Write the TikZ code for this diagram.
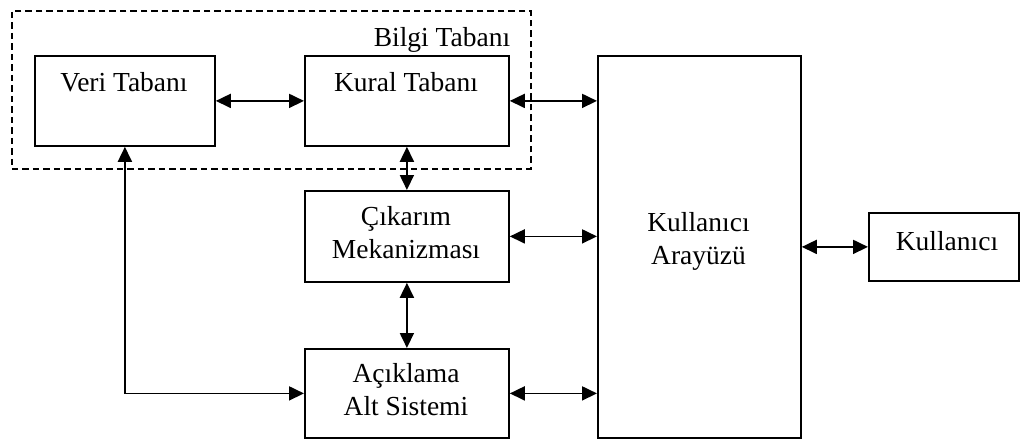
\documentclass[tikz,border=0pt]{standalone}
\usepackage{fontspec}
\setmainfont{Liberation Serif}
\usetikzlibrary{arrows.meta}
\begin{document}
\begin{tikzpicture}[x=1pt,y=-1pt,
  box/.style={draw, line width=1.8pt, inner sep=0pt, anchor=north west},
  group/.style={draw, line width=1.6pt, dash pattern=on 6.5pt off 4pt, inner sep=0pt, anchor=north west},
  lbl/.style={font=\fontsize{27.5}{33}\selectfont, align=center, inner sep=0pt},
  conn/.style={line width=1.8pt, {Triangle[length=15pt,width=14pt]}-{Triangle[length=15pt,width=14pt]}},
]
\useasboundingbox (0,0) rectangle (1020,439);
% group
\node[group, minimum width=519pt, minimum height=158pt] (bilgi) at (11,10) {};
% boxes
\node[box, minimum width=180pt, minimum height=90pt] (veri) at (34,55) {};
\node[box, minimum width=204pt, minimum height=90pt] (kural) at (304,55) {};
\node[box, minimum width=204pt, minimum height=91pt] (cik) at (304,190) {};
\node[box, minimum width=204pt, minimum height=89pt] (acik) at (304,348) {};
\node[box, minimum width=203pt, minimum height=382pt] (ui) at (597,55) {};
\node[box, minimum width=150pt, minimum height=68pt] (kul) at (868,212) {};
% labels
\node[lbl, anchor=base] (bilgitxt) at (442,46) {Bilgi Tabanı};
\node[lbl, anchor=base] (veritxt) at (124,91) {Veri Tabanı};
\node[lbl, anchor=base] (kuraltxt) at (406,91) {Kural Tabanı};
\node[lbl] (ciktxt) at (406,232.5) {Çıkarım\\Mekanizması};
\node[lbl] (aciktxt) at (406,389.8) {Açıklama\\Alt Sistemi};
\node[lbl] (uitxt) at (698.5,241.3) {Kullanıcı\\Arayüzü};
\node[lbl, anchor=base] (kultxt) at (947,250) {Kullanıcı};
% connectors
\draw[conn] (veri.east) -- (kural.west);
\draw[conn] (kural.east) -- (kural.east -| ui.west);
\draw[conn] (kural.south) -- (cik.north);
\draw[conn] (cik.east) -- (cik.east -| ui.west);
\draw[conn] (cik.south) -- (acik.north);
\draw[conn] (acik.east) -- (acik.east -| ui.west);
\draw[conn] (ui.east |- kul.west) -- (kul.west);
\draw[conn] (veri.south) |- (acik.west);
\end{tikzpicture}
\end{document}
